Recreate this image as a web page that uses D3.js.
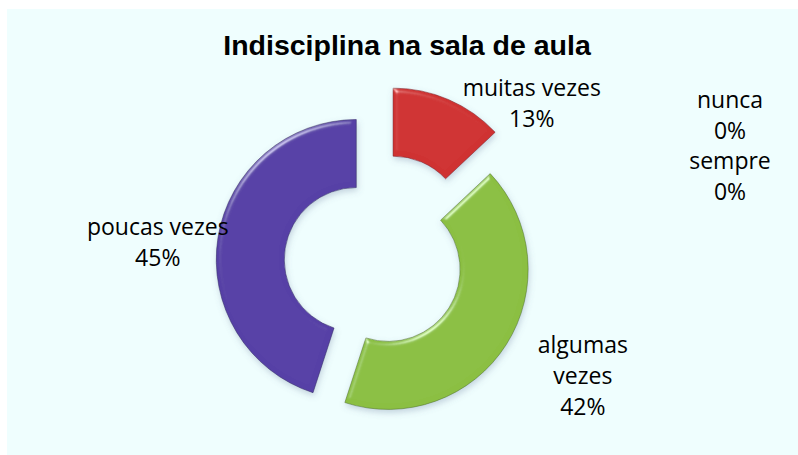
<!DOCTYPE html>
<html>
<head>
<meta charset="utf-8">
<script src="https://cdn.jsdelivr.net/npm/d3@7"></script>
<style>
  body { margin: 0; background: #fff; }
  text { font-family: "Open Sans", "Noto Sans", sans-serif; }
</style>
</head>
<body>
<div id="chart"></div>
<script>
// data (Excel point order)
const categories = ["nunca", "muitas vezes", "algumas vezes", "poucas vezes", "sempre"];
const values = [0, 13, 42, 45, 0];
const percentLabels = ["0%", "13%", "42%", "45%", "0%"];
const colors = ["#4f81bd", "#cf3131", "#8bbf42", "#5641a6", "#4bacc6"];

const width = 798,
    height = 455;

const cx = 378, cy = 263;
const outerR = 140, innerR = 72;
// how far each point is pulled out from the centre
const explode = [0, 38, 12, 22, 0];

const svg = d3.select("#chart")
    .append("svg")
    .attr("width", width)
    .attr("height", height);

const defs = svg.append("defs");
const filter = defs.append("filter")
    .attr("id", "bevel")
    .attr("x", "-20%").attr("y", "-20%")
    .attr("width", "140%").attr("height", "140%");
filter.append("feGaussianBlur")
    .attr("in", "SourceAlpha").attr("stdDeviation", 2.5).attr("result", "blur");
const spec = filter.append("feSpecularLighting")
    .attr("in", "blur")
    .attr("surfaceScale", 3)
    .attr("specularConstant", 0.45)
    .attr("specularExponent", 40)
    .attr("lighting-color", "#ffffff")
    .attr("result", "spec");
spec.append("feDistantLight").attr("azimuth", 235).attr("elevation", 35);
filter.append("feComposite")
    .attr("in", "spec").attr("in2", "SourceAlpha")
    .attr("operator", "in").attr("result", "specIn");
filter.append("feComposite")
    .attr("in", "SourceGraphic").attr("in2", "specIn")
    .attr("operator", "arithmetic")
    .attr("k1", 0).attr("k2", 1).attr("k3", 1).attr("k4", 0)
    .attr("result", "lit");
filter.append("feGaussianBlur")
    .attr("in", "SourceAlpha").attr("stdDeviation", 3).attr("result", "sblur");
filter.append("feOffset")
    .attr("in", "sblur").attr("dx", 1).attr("dy", 3).attr("result", "soff");
filter.append("feFlood")
    .attr("flood-color", "#5d6f94").attr("flood-opacity", 0.3);
filter.append("feComposite")
    .attr("in2", "soff").attr("operator", "in").attr("result", "shadow");
const merge = filter.append("feMerge");
merge.append("feMergeNode").attr("in", "shadow");
merge.append("feMergeNode").attr("in", "lit");

// chart area
svg.append("rect")
    .attr("x", 7)
    .attr("y", 9)
    .attr("width", width - 7)
    .attr("height", height - 9)
    .attr("fill", "#effefe");

svg.append("text")
    .attr("x", 407)
    .attr("y", 55)
    .attr("text-anchor", "middle")
    .style("font-family", "'Liberation Sans', Arial, sans-serif")
    .style("font-weight", "bold")
    .style("font-size", "28.5px")
    .attr("fill", "#000")
    .text("Indisciplina na sala de aula");

const pie = d3.pie()
    .sort(null)
    .value(d => d)
    .startAngle(0)
    .endAngle(2 * Math.PI);

const arc = d3.arc()
    .innerRadius(innerR)
    .outerRadius(outerR);

const slices = pie(values);

function shift(d, i) {
    const mid = (d.startAngle + d.endAngle) / 2;
    return [cx + explode[i] * Math.sin(mid), cy - explode[i] * Math.cos(mid)];
}

svg.append("g")
    .selectAll("path")
    .data(slices)
    .enter()
    .filter(d => d.value > 0)
    .append("path")
    .attr("transform", (d) => {
        const i = slices.indexOf(d);
        const p = shift(d, i);
        return `translate(${p[0]}, ${p[1]})`;
    })
    .attr("d", arc)
    .attr("fill", d => colors[slices.indexOf(d)])
    .attr("stroke", d => d3.color(colors[slices.indexOf(d)]).darker(1.3))
    .attr("stroke-opacity", 0.7)
    .attr("stroke-width", 0.8)
    .attr("filter", "url(#bevel)");

// data labels: placed along each slice's middle angle, some moved by hand like in Excel
const labelR = 226;
const labelNudge = [[0, 0], [64, 48], [14, -8], [3, 15], [0, 0]];
const lineH = 31;

const labels = svg.append("g")
    .style("font-size", "23px")
    .attr("fill", "#000");

slices.forEach((d, i) => {
    let x, y, lines;
    if (d.value === 0) {
        // zero points were dragged to the right side
        x = 730;
        y = i === 0 ? 100 : 161;
        lines = [categories[i], percentLabels[i]];
    } else {
        const mid = (d.startAngle + d.endAngle) / 2;
        x = cx + labelR * Math.sin(mid) + labelNudge[i][0];
        y = cy - labelR * Math.cos(mid) + labelNudge[i][1];
        lines = categories[i] === "algumas vezes"
            ? ["algumas", "vezes", percentLabels[i]]
            : [categories[i], percentLabels[i]];
        y = y - (lines.length - 1) * lineH / 2;
    }
    const t = labels.append("text")
        .attr("text-anchor", "middle")
        .attr("x", x)
        .attr("y", y)
        .attr("dy", "0.35em");
    lines.forEach((s, k) => {
        t.append("tspan")
            .attr("x", x)
            .attr("y", y + k * lineH)
            .attr("dy", "0.35em")
            .text(s);
    });
});
</script>
</body>
</html>
